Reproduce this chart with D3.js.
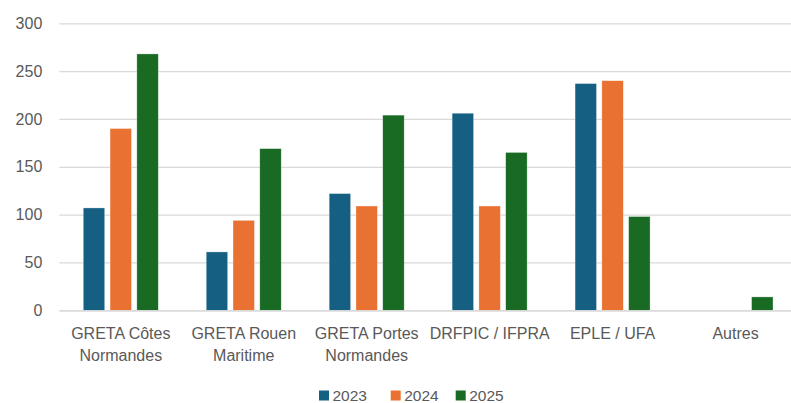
<!DOCTYPE html>
<html>
<head>
<meta charset="utf-8">
<script src="https://cdn.jsdelivr.net/npm/d3@7"></script>
<style>
  body { margin: 0; background: #fff; }
  svg { display: block; font-family: "Liberation Sans", Arial, sans-serif; }
</style>
</head>
<body>
<svg id="chart" width="791" height="403"></svg>
<script>
// données
var categories = [
  ["GRETA Côtes", "Normandes"],
  ["GRETA Rouen", "Maritime"],
  ["GRETA Portes", "Normandes"],
  ["DRFPIC / IFPRA"],
  ["EPLE / UFA"],
  ["Autres"]
];
var years = ["2023", "2024", "2025"];
var v2023 = [107, 61, 122, 206, 237, 0];
var v2024 = [190, 94, 109, 109, 240, 0];
var v2025 = [268, 169, 204, 165, 98, 14];
var yTicks = [0, 50, 100, 150, 200, 250, 300];
var colors = ["#156082", "#E97132", "#196B24"];

var series = [v2023, v2024, v2025];
var svg = d3.select("#chart");

// zone du graphique (attention : "top" est réservé par window)
var plotL = 59.3, plotR = 797, plotT = 23.3, plotB = 310.3;

var x = d3.scaleBand().domain(d3.range(categories.length)).range([plotL, plotR]);
var xi = d3.scaleBand().domain(years).range([x.bandwidth() * 0.195, x.bandwidth() * 0.805]).paddingInner(0.2);
var y = d3.scaleLinear().domain([0, 300]).range([plotB, plotT]);

// grille
var yAxis = d3.axisLeft(y).tickValues(yTicks).tickSize(-(plotR - plotL)).tickPadding(17);
var gy = svg.append("g").attr("transform", "translate(" + plotL + ",0)").call(yAxis);
gy.select(".domain").remove();
gy.selectAll(".tick line").attr("stroke", "#D9D9D9").attr("stroke-width", 1.3);
gy.selectAll(".tick text").attr("fill", "#595959").style("font-size", "16px");

// barres
var groups = svg.append("g").selectAll("g")
  .data(categories)
  .join("g")
  .attr("transform", function(d, i){ return "translate(" + x(i) + ",0)"; });

groups.selectAll("rect")
  .data(function(d, i){ return years.map(function(yr, k){ return {yr: yr, k: k, v: series[k][i]}; }).filter(function(e){ return e.v > 0; }); })
  .join("rect")
  .attr("x", function(d){ return xi(d.yr); })
  .attr("width", xi.bandwidth())
  .attr("y", function(d){ return y(d.v); })
  .attr("height", function(d){ return y(0) - y(d.v); })
  .attr("fill", function(d){ return colors[d.k]; })
  .attr("stroke", "#ffffff")
  .attr("stroke-opacity", 0.5)
  .attr("stroke-width", 0.6);

// axe horizontal
var xAxis = d3.axisBottom(x).tickSize(0).tickFormat("");
var gx = svg.append("g").attr("transform", "translate(0," + plotB + ")").call(xAxis);
gx.select(".domain").attr("stroke", "#D9D9D9").attr("stroke-width", 1.3);

// étiquettes
var labels = svg.append("g").selectAll("text")
  .data(categories)
  .join("text")
  .attr("text-anchor", "middle")
  .attr("fill", "#595959")
  .style("font-size", "16px")
  .attr("transform", function(d, i){ return "translate(" + (x(i) + x.bandwidth() / 2) + ",339)"; });
labels.selectAll("tspan")
  .data(function(d){ return d; })
  .join("tspan")
  .attr("x", 0)
  .attr("dy", function(d, j){ return j === 0 ? 0 : 22; })
  .text(function(d){ return d; });

// légende
var legendX = [319, 390.7, 455.7];
var lg = svg.append("g").selectAll("g")
  .data(years)
  .join("g")
  .attr("transform", function(d, i){ return "translate(" + legendX[i] + ",390.5)"; });
lg.append("rect").attr("width", 10).attr("height", 10).attr("fill", function(d, i){ return colors[i]; });
lg.append("text").attr("x", 13.5).attr("y", 10.2).attr("fill", "#595959").style("font-size", "15.5px").text(function(d){ return d; });
</script>
</body>
</html>
